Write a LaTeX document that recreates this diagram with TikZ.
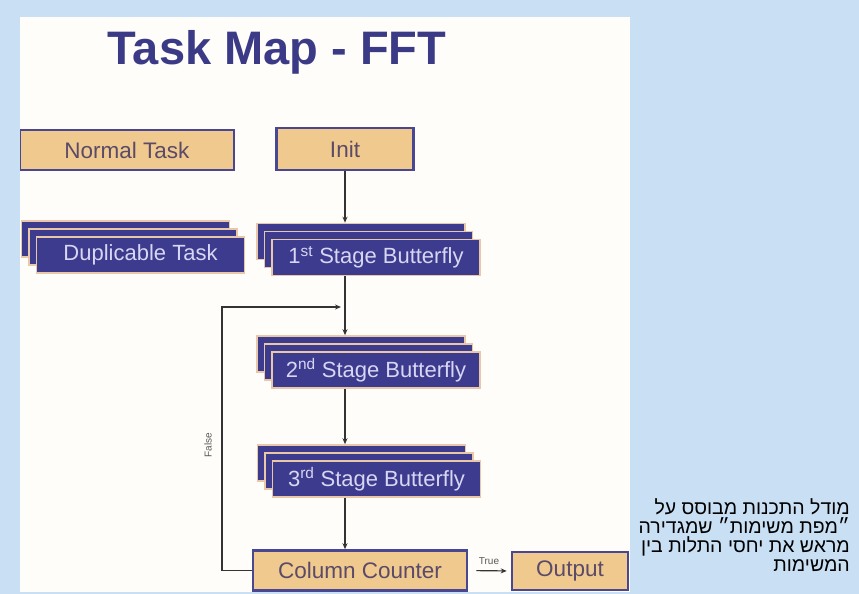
\documentclass[tikz,border=0pt]{standalone}
\usepackage{fontspec}
\setmainfont{Liberation Sans}
\newfontfamily\hebfont[Script=Hebrew]{Liberation Sans}
\TeXXeTstate=1
\usetikzlibrary{arrows.meta}
\definecolor{bgblue}{RGB}{200,223,244}
\definecolor{panelw}{RGB}{255,253,249}
\definecolor{dkblue}{RGB}{61,59,142}
\definecolor{tanbox}{RGB}{239,201,142}
\definecolor{tanedge}{RGB}{74,71,146}
\definecolor{tantext}{RGB}{91,74,104}
\definecolor{bluetext}{RGB}{216,214,242}
\definecolor{titleblue}{RGB}{59,58,134}
\definecolor{layeredge}{RGB}{232,200,168}
\tikzset{
  tanstyle/.style={draw=tanedge, fill=tanbox, line width=2.6pt, inner sep=0pt,
    text=tantext, font=\fontsize{22.5}{24}\selectfont},
  layer/.style={draw=layeredge, fill=dkblue, line width=1.6pt, inner sep=0pt,
    minimum width=208pt, minimum height=36pt, text=bluetext, font=\fontsize{22}{24}\selectfont},
  conn/.style={draw=black!80, line width=1.2pt, -{Stealth[length=6pt,width=5pt]}},
  small/.style={font=\fontsize{10}{11}\selectfont, text=black!65, inner sep=1pt},
  heb/.style={anchor=base east, font=\hebfont\fontsize{19.5}{20}\selectfont, inner sep=0pt, text=black}
}
\newcommand\stackbox[4]{%
  \node[layer] (#1c) at (#2-15,#3-16) {};
  \node[layer] (#1b) at (#2-7.5,#3-8) {};
  \node[layer] (#1) at (#2,#3) {#4};
}
\begin{document}
\begin{tikzpicture}[x=1pt,y=-1pt]
\useasboundingbox (0,0) rectangle (859,594);
\fill[bgblue] (0,0) rectangle (859,594);
\fill[panelw] (20,17) rectangle (630,592);
\begin{scope}
\clip (20,17) rectangle (630,592);
\node[anchor=base, text=titleblue, font=\bfseries\fontsize{47}{52}\selectfont, inner sep=0pt] (title) at (277,65) {Task Map - FFT};
\node[tanstyle, minimum width=214pt, minimum height=40pt] (normal) at (127,150) {Normal Task};
\node[tanstyle, minimum width=137pt, minimum height=42pt] (init) at (345,149) {Init};
\stackbox{dup}{140.5}{255}{Duplicable Task}
\stackbox{sa}{376}{257.5}{1\textsuperscript{st} Stage Butterfly}
\stackbox{sb}{376}{370}{2\textsuperscript{nd} Stage Butterfly}
\stackbox{sc}{376.5}{479}{3\textsuperscript{rd} Stage Butterfly}
\node[tanstyle, minimum width=214pt, minimum height=40pt] (cc) at (360,570.5) {Column Counter};
\node[tanstyle, minimum width=116pt, minimum height=38pt] (out) at (570,571) {Output};
\draw[conn] (init.south) -- (init.south |- sac.north);
\draw[conn] (init.south |- sa.south) -- (init.south |- sbc.north);
\draw[conn] (init.south |- sb.south) -- (init.south |- scc.north);
\draw[conn] (init.south |- sc.south) -- (init.south |- cc.north);
\coordinate (loopin) at (341,307);
\coordinate (loopx) at (222,0);
\draw[conn] (cc.west) -- (cc.west -| loopx) -- (loopx |- loopin) -- (loopin);
\node[small, rotate=90] (false) at (208,445) {False};
\draw[conn, shorten <=8pt, shorten >=4pt] (cc.east) -- (out.west);
\node[small] (true) at (489,561) {True};
\end{scope}
\node[heb] (h1) at (850,514) {\beginR מודל התכנות מבוסס על\endR};
\node[heb] (h2) at (850,533) {\beginR ״מפת משימות״ שמגדירה\endR};
\node[heb] (h3) at (850,552) {\beginR מראש את יחסי התלות בין\endR};
\node[heb] (h4) at (850,571) {\beginR המשימות\endR};
\end{tikzpicture}
\end{document}
